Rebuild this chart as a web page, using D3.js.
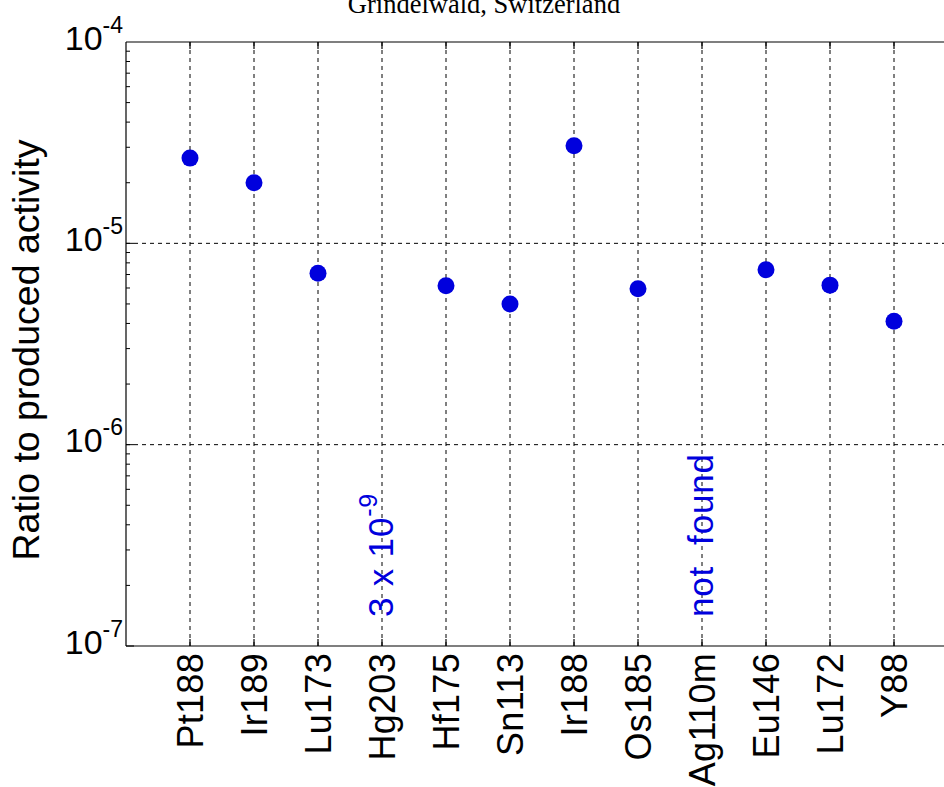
<!DOCTYPE html>
<html>
<head>
<meta charset="utf-8">
<script src="https://cdn.jsdelivr.net/npm/d3@7"></script>
<style>
  html, body { margin: 0; padding: 0; background: #fff; }
  svg { display: block; }
</style>
</head>
<body>
<svg id="chart" width="944" height="787"></svg>
<script>
// Isotopes measured in the Grindelwald sample
const isotopes = ["Pt188", "Ir189", "Lu173", "Hg203", "Hf175", "Sn113", "Ir188", "Os185", "Ag110m", "Eu146", "Lu172", "Y88"];
// Ratio to produced activity (null where no point is plotted)
const ratios = [2.65e-5, 2.0e-5, 7.1e-6, null, 6.15e-6, 5.0e-6, 3.05e-5, 5.95e-6, null, 7.4e-6, 6.2e-6, 4.1e-6];
// Notes written in place of a point
const notes = [
  { isotope: "Hg203", text: "3 x 10", sup: "-9" },
  { isotope: "Ag110m", text: "not  found", sup: null }
];
const yTickExps = [-4, -5, -6, -7];

const svg = d3.select("#chart");
const plotLeft = 126, plotTop = 42, plotBottom = 646, plotRight = 958;
const blue = "#0000dd";

const x = d3.scaleLinear().domain([0, isotopes.length + 1]).range([plotLeft, plotRight]);
const y = d3.scaleLog().domain([1e-7, 1e-4]).range([plotBottom, plotTop]);

// Grid lines
const grid = svg.append("g").attr("stroke", "#000").attr("stroke-width", 1)
  .attr("stroke-dasharray", "4,4").attr("fill", "none");
isotopes.forEach((d, i) => {
  grid.append("line").attr("x1", x(i + 1)).attr("x2", x(i + 1))
    .attr("y1", plotTop).attr("y2", plotBottom);
});
yTickExps.slice(1, 3).forEach(e => {
  grid.append("line").attr("x1", plotLeft).attr("x2", plotRight)
    .attr("y1", y(Math.pow(10, e))).attr("y2", y(Math.pow(10, e)));
});

// Axes frame
const frame = svg.append("g").attr("stroke", "#000").attr("stroke-width", 1.2).attr("fill", "none");
frame.append("line").attr("x1", plotLeft).attr("x2", plotLeft).attr("y1", plotTop).attr("y2", plotBottom);
frame.append("line").attr("x1", plotLeft).attr("x2", plotRight).attr("y1", plotBottom).attr("y2", plotBottom);
frame.append("line").attr("x1", plotLeft).attr("x2", plotRight).attr("y1", plotTop).attr("y2", plotTop);

// Tick marks along the top and bottom edges
isotopes.forEach((d, i) => {
  frame.append("line").attr("x1", x(i + 1)).attr("x2", x(i + 1)).attr("y1", plotTop).attr("y2", plotTop + 7);
  frame.append("line").attr("x1", x(i + 1)).attr("x2", x(i + 1)).attr("y1", plotBottom).attr("y2", plotBottom - 7);
});

// Major and minor ticks on the log axis
for (let e = -7; e < -4; e++) {
  for (let m = 1; m <= 9; m++) {
    const v = m * Math.pow(10, e);
    frame.append("line").attr("x1", plotLeft).attr("x2", plotLeft + (m === 1 ? 8 : 4))
      .attr("y1", y(v)).attr("y2", y(v)).attr("stroke-width", 1);
  }
}

// Y tick labels, 10 with superscript exponent
const font = "Arial, 'Liberation Sans', Helvetica, sans-serif";
yTickExps.forEach(e => {
  const t = svg.append("text").attr("x", 123).attr("y", y(Math.pow(10, e)) + 7.5)
    .attr("text-anchor", "end").attr("font-family", font).attr("font-size", 34).attr("fill", "#000");
  t.append("tspan").text("10");
  t.append("tspan").attr("dy", -17).attr("font-size", 23).text(String(e));
});

// X tick labels, rotated
isotopes.forEach((d, i) => {
  svg.append("text")
    .attr("transform", `translate(${x(i + 1) + 13},653) rotate(-90)`)
    .attr("text-anchor", "end").attr("font-family", font).attr("font-size", 36)
    .attr("letter-spacing", 0.3).attr("fill", "#000")
    .text(d);
});

// Y axis title
svg.append("text")
  .attr("transform", `translate(39,350) rotate(-90)`)
  .attr("text-anchor", "middle").attr("font-family", font).attr("font-size", 37.5).attr("fill", "#000")
  .text("Ratio to produced activity");

// Chart title
svg.append("text").attr("x", 484).attr("y", 13).attr("text-anchor", "middle")
  .attr("font-family", "'Liberation Serif', 'Times New Roman', serif").attr("font-size", 26.5).attr("fill", "#000")
  .text("Grindelwald, Switzerland");

// Data points
svg.append("g").selectAll("circle")
  .data(isotopes.map((d, i) => ({ d, i, v: ratios[i] })).filter(p => p.v != null))
  .join("circle")
  .attr("cx", p => x(p.i + 1)).attr("cy", p => y(p.v)).attr("r", 8.5)
  .attr("fill", blue);

// Notes for isotopes without a plotted point
notes.forEach(n => {
  const i = isotopes.indexOf(n.isotope);
  const t = svg.append("text")
    .attr("transform", `translate(${x(i + 1) + 11},617) rotate(-90)`)
    .attr("xml:space", "preserve").style("white-space", "pre")
    .attr("text-anchor", "start").attr("font-family", font).attr("font-size", 35)
    .attr("letter-spacing", 0.8).attr("fill", blue);
  t.append("tspan").text(n.text);
  if (n.sup) t.append("tspan").attr("dy", -16).attr("font-size", 25).text(n.sup);
});
</script>
</body>
</html>
